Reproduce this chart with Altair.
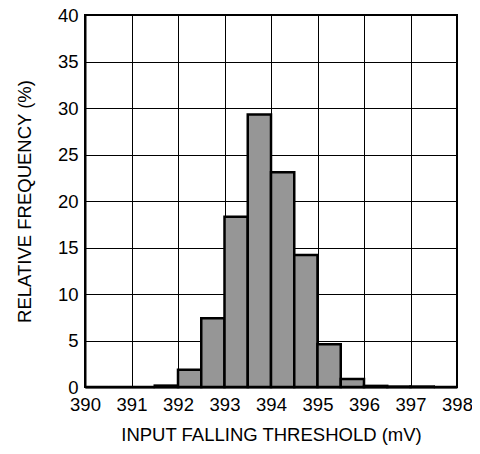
import altair as alt
import pandas as pd

bin_start = [390.0, 390.5, 391.0, 391.5, 392.0, 392.5, 393.0, 393.5, 394.0, 394.5,
             395.0, 395.5, 396.0, 396.5, 397.0, 397.5]
freq = [0.0, 0.0, 0.0, 0.15, 1.85, 7.4, 18.3, 29.3, 23.1, 14.2,
        4.6, 0.85, 0.12, 0.05, 0.05, 0.0]
bin_width = 0.5

df = pd.DataFrame({"start": bin_start, "freq": freq})
df["end"] = df["start"] + bin_width

font = "Liberation Sans"

bars = alt.Chart(df).mark_rect(
    color="#969696", stroke="black", strokeWidth=2.5
).encode(
    x=alt.X("start:Q",
            scale=alt.Scale(domain=[390, 398], nice=False, zero=False),
            axis=alt.Axis(title="INPUT FALLING THRESHOLD (mV)",
                          values=list(range(390, 399)), format="d",
                          grid=True, gridColor="black", gridWidth=1, gridOpacity=1,
                          ticks=False, labelPadding=8, titlePadding=12,
                          labelFlush=False, labelOverlap=False,
                          domainColor="black", domainWidth=2)),
    x2="end:Q",
    y=alt.Y("freq:Q",
            scale=alt.Scale(domain=[0, 40], nice=False),
            axis=alt.Axis(title="RELATIVE FREQUENCY (%)",
                          values=list(range(0, 41, 5)),
                          grid=True, gridColor="black", gridWidth=1, gridOpacity=1,
                          ticks=False, labelPadding=7, titlePadding=23,
                          labelFlush=False, labelOverlap=False,
                          domainColor="black", domainWidth=2)),
    y2=alt.datum(0),
)

chart = bars.properties(
    width=372, height=372,
    autosize=alt.AutoSizeParams(type="none"),
    padding={"left": 77, "top": 7, "right": 15, "bottom": 60},
).configure_view(
    stroke="black", strokeWidth=2
).configure_axis(
    labelFont=font, titleFont=font, labelFontSize=18.5, titleFontSize=18.5,
    labelColor="black", titleColor="black", titleFontWeight="normal",
)

chart.save("out.html", embed_options={"renderer": "svg", "actions": False})
